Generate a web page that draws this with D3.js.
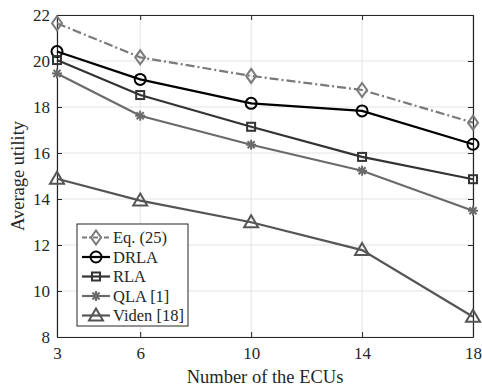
<!DOCTYPE html>
<html lang="en">
<head>
<meta charset="utf-8">
<title>Average utility</title>
<script src="https://d3js.org/d3.v7.min.js"></script>
<style>
  body { margin: 0; background: #fff; }
  svg text { font-family: "Liberation Serif", "DejaVu Serif", serif; fill: #262626; }
</style>
</head>
<body>
<script>
// values
var ecus = [3, 6, 10, 14, 18];
var eq25  = [21.64, 20.16, 19.35, 18.74, 17.32];
var drla  = [20.41, 19.20, 18.16, 17.83, 16.38];
var rla   = [20.04, 18.52, 17.14, 15.83, 14.86];
var qla   = [19.46, 17.62, 16.36, 15.23, 13.49];
var viden = [14.88, 13.93, 12.99, 11.78, 8.88];
var yTicks = [8, 10, 12, 14, 16, 18, 20, 22];

var series = [
  {name: "Eq. (25)",    vals: eq25,  color: "#7a7a7a", dash: "9,3,2,3", marker: "diamond"},
  {name: "DRLA",        vals: drla,  color: "#000000", dash: null, marker: "circle"},
  {name: "RLA",         vals: rla,   color: "#333333", dash: null, marker: "square"},
  {name: "QLA [1]",     vals: qla,   color: "#6a6a6a", dash: null, marker: "star"},
  {name: "Viden [18]",  vals: viden, color: "#555555", dash: null, marker: "triangle"}
];

var W = 482, H = 387;
var m = {left: 57, right: 9, top: 15, bottom: 50};
var serif = "'Liberation Serif', 'DejaVu Serif', serif";

var svg = d3.select("body").append("svg")
    .attr("width", W)
    .attr("height", H);

var x = d3.scaleLinear().domain([3, 18]).range([m.left, W - m.right]);
var y = d3.scaleLinear().domain([8, 22]).range([H - m.bottom, m.top]);

// grid
svg.append("g").selectAll("line").data(ecus).enter().append("line")
  .attr("x1", d => x(d)).attr("x2", d => x(d))
  .attr("y1", y(8)).attr("y2", y(22))
  .attr("stroke", "#e3e3e3").attr("stroke-width", 1);
svg.append("g").selectAll("line").data(yTicks).enter().append("line")
  .attr("x1", x(3)).attr("x2", x(18))
  .attr("y1", d => y(d)).attr("y2", d => y(d))
  .attr("stroke", "#e3e3e3").attr("stroke-width", 1);

// axes
var xAx = svg.append("g").attr("transform", "translate(0," + y(8) + ")")
  .call(d3.axisBottom(x).tickValues(ecus).tickSize(-5).tickPadding(10).tickSizeOuter(0));
var xTop = svg.append("g").attr("transform", "translate(0," + y(22) + ")")
  .call(d3.axisTop(x).tickValues(ecus).tickSize(-5).tickFormat("").tickSizeOuter(0));
var yAx = svg.append("g").attr("transform", "translate(" + x(3) + ",0)")
  .call(d3.axisLeft(y).tickValues(yTicks).tickSize(-5).tickPadding(7).tickSizeOuter(0));
var yRt = svg.append("g").attr("transform", "translate(" + x(18) + ",0)")
  .call(d3.axisRight(y).tickValues(yTicks).tickSize(-5).tickFormat("").tickSizeOuter(0));

[xAx, xTop, yAx, yRt].forEach(function(g) {
  g.attr("font-family", serif).attr("font-size", 17);
  g.selectAll("path").attr("stroke", "#262626").attr("stroke-width", 1.2);
  g.selectAll("line").attr("stroke", "#262626");
  g.selectAll("text").attr("fill", "#262626");
});

svg.append("text").attr("x", (x(3) + x(18)) / 2).attr("y", 383)
  .attr("text-anchor", "middle").attr("font-size", 18.5).text("Number of the ECUs");
svg.append("text").attr("transform", "translate(24," + ((y(8) + y(22)) / 2) + ") rotate(-90)")
  .attr("text-anchor", "middle").attr("font-size", 18.5).text("Average utility");

function drawMarker(g, type, cx, cy, color) {
  if (type === "circle") {
    g.append("circle").attr("cx", cx).attr("cy", cy).attr("r", 5.5)
      .attr("fill", "none").attr("stroke", color).attr("stroke-width", 2);
  } else if (type === "square") {
    g.append("rect").attr("x", cx - 4).attr("y", cy - 4).attr("width", 8).attr("height", 8)
      .attr("fill", "none").attr("stroke", color).attr("stroke-width", 2);
  } else if (type === "diamond") {
    g.append("path").attr("d", "M" + cx + "," + (cy - 7) + "L" + (cx + 5) + "," + cy +
        "L" + cx + "," + (cy + 7) + "L" + (cx - 5) + "," + cy + "Z")
      .attr("fill", "none").attr("stroke", color).attr("stroke-width", 2);
  } else if (type === "triangle") {
    g.append("path").attr("d", "M" + cx + "," + (cy - 7) + "L" + (cx + 7) + "," + (cy + 5) +
        "L" + (cx - 7) + "," + (cy + 5) + "Z")
      .attr("fill", "none").attr("stroke", color).attr("stroke-width", 2);
  } else if (type === "star") {
    var r = 5;
    for (var k = 0; k < 4; k++) {
      var a = k * Math.PI / 4;
      g.append("line")
        .attr("x1", cx - r * Math.cos(a)).attr("y1", cy - r * Math.sin(a))
        .attr("x2", cx + r * Math.cos(a)).attr("y2", cy + r * Math.sin(a))
        .attr("stroke", color).attr("stroke-width", 2);
    }
  }
}

var line = d3.line().x(d => x(d[0])).y(d => y(d[1]));

series.forEach(function(s) {
  var pts = ecus.map((e, i) => [e, s.vals[i]]);
  var g = svg.append("g");
  g.append("path").datum(pts).attr("d", line)
    .attr("fill", "none").attr("stroke", s.color).attr("stroke-width", 2.2)
    .attr("stroke-dasharray", s.dash);
  pts.forEach(function(p) { drawMarker(g, s.marker, x(p[0]), y(p[1]), s.color); });
});

// legend
var lg = svg.append("g").attr("transform", "translate(77,224)");
lg.append("rect").attr("width", 111).attr("height", 102)
  .attr("fill", "#fff").attr("stroke", "#262626").attr("stroke-width", 1);
series.forEach(function(s, i) {
  var ly = 13.5 + i * 19.5;
  lg.append("line").attr("x1", 5).attr("x2", 33).attr("y1", ly).attr("y2", ly)
    .attr("stroke", s.color).attr("stroke-width", 2.2)
    .attr("stroke-dasharray", s.dash ? "5,2,2,2" : null);
  drawMarker(lg, s.marker, 19, ly, s.color);
  lg.append("text").attr("x", 36).attr("y", ly + 5.5)
    .attr("font-size", 16.5).text(s.name);
});
</script>
</body>
</html>
